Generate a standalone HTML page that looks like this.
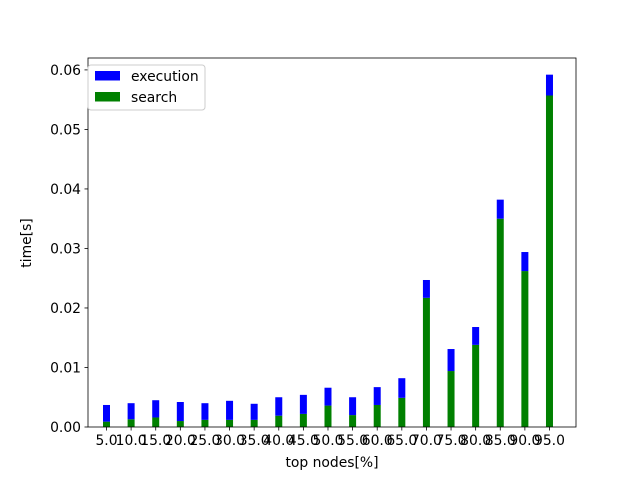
<!DOCTYPE html>
<html><head><meta charset="utf-8"><style>
body{margin:0;background:#fff;}
svg{display:block;font-family:"DejaVu Sans","Liberation Sans",sans-serif;}
</style></head><body>
<svg id="chart" width="640" height="480">
<rect width="640" height="480" fill="#fff"/>
<g id="plot"></g>
</svg>
<script>
const categories=["5.0","10.0","15.0","20.0","25.0","30.0","35.0","40.0","45.0","50.0","55.0","60.0","65.0","70.0","75.0","80.0","85.0","90.0","95.0"];
const searchVals=[0.0009,0.0013,0.0016,0.0010,0.0012,0.0012,0.0012,0.0019,0.0022,0.0036,0.0020,0.0037,0.0049,0.0217,0.0094,0.0138,0.0350,0.0262,0.0557];
const totalVals=[0.0037,0.0040,0.0045,0.0042,0.0040,0.0044,0.0039,0.0050,0.0054,0.0066,0.0050,0.0067,0.0082,0.0247,0.0131,0.0168,0.0382,0.0294,0.0592];
const yTicks=[0,0.01,0.02,0.03,0.04,0.05,0.06];
const yTickLabels=["0.00","0.01","0.02","0.03","0.04","0.05","0.06"];
const NS="http://www.w3.org/2000/svg";
const g=document.getElementById('plot');
const L=88,R=576,T=58,B=427;
const yMax=0.0620;
function y(v){return B-(v/yMax)*(B-T);}
function x(i){return 106.5+24.61*i;}
function mk(tag,attrs,text){const e=document.createElementNS(NS,tag);for(const k in attrs)e.setAttribute(k,attrs[k]);if(text!==undefined)e.textContent=text;g.appendChild(e);return e;}
const bw=7;
categories.forEach((c,i)=>{
  const s=searchVals[i], t=totalVals[i];
  const b1=mk('rect',{x:x(i)-bw/2,y:y(s),width:bw,height:B-y(s),fill:'#008000'});
  
  
  const b2=mk('rect',{x:x(i)-bw/2,y:y(t),width:bw,height:y(s)-y(t),fill:'#0000ff'});
  
  
  const tk=mk('line',{x1:x(i),x2:x(i),y1:B,y2:B+3.5,stroke:'#000','stroke-width':0.8});
  
  
  const tl=mk('text',{x:x(i),y:B+18,'font-size':13.9,'text-anchor':'middle',fill:'#000'},c);
  
  
});
yTicks.forEach((v,i)=>{
  const tk=mk('line',{x1:L-3.5,x2:L,y1:y(v),y2:y(v),stroke:'#000','stroke-width':0.8});
  
  
  const tl=mk('text',{x:L-7,y:y(v)+5,'font-size':13.9,'text-anchor':'end',fill:'#000'},yTickLabels[i]);
  
  
});
const fr=mk('rect',{x:L,y:T,width:R-L,height:B-T,fill:'none',stroke:'#000','stroke-width':0.8});


const xl=mk('text',{x:332,y:467,'font-size':13.9,'text-anchor':'middle'},'top nodes[%]');


const yl=mk('text',{x:0,y:0,'font-size':13.9,'text-anchor':'middle',transform:'translate(31,243) rotate(-90)'},'time[s]');


const lg=mk('rect',{x:88,y:65,width:117,height:45,rx:3,fill:'#fff','fill-opacity':0.8,stroke:'#ccc','stroke-width':1});


const p1=mk('rect',{x:95,y:71,width:25,height:9.5,fill:'#0000ff'});


const t1=mk('text',{x:131,y:81,'font-size':13.9},'execution');


const p2=mk('rect',{x:95,y:92,width:25,height:9.5,fill:'#008000'});


const t2=mk('text',{x:131,y:102,'font-size':13.9},'search');


</script>
</body></html>
